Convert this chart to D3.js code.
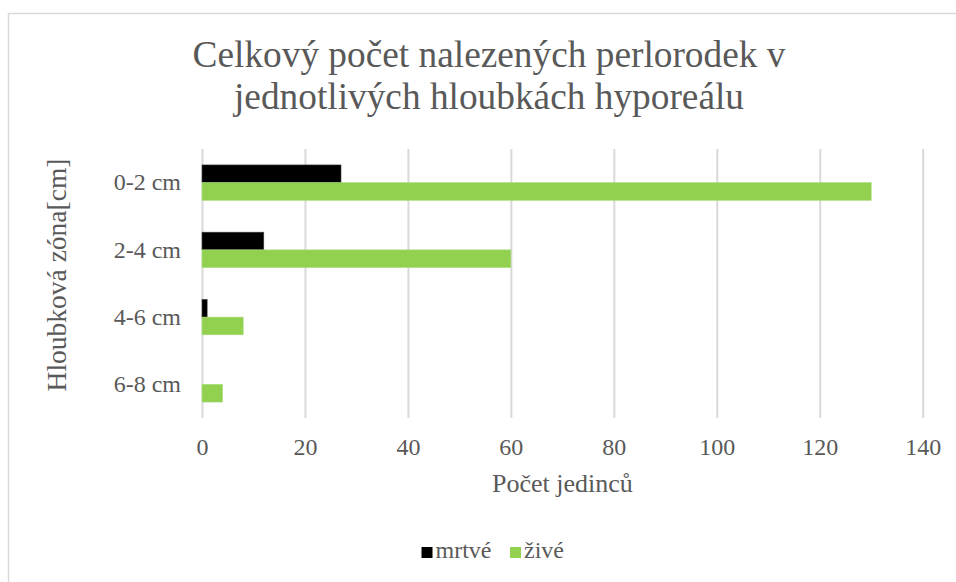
<!DOCTYPE html>
<html><head><meta charset="utf-8">
<script src="https://cdn.jsdelivr.net/npm/d3@7"></script>
<style>body{margin:0;background:#fff}svg{display:block}
svg text{font-family:"Liberation Serif","Times New Roman",Tinos,serif}</style>
</head><body>
<svg id="c" width="956" height="582"></svg>
<script>
const categories = ["0-2 cm", "2-4 cm", "4-6 cm", "6-8 cm"];
const seriesNames = ["mrtvé", "živé"];
const mrtve = [27, 12, 1, 0];
const zive = [130, 60, 8, 4];
const xTicks = [0, 20, 40, 60, 80, 100, 120, 140];
const colors = ["#000000", "#92d050"];

const svg = d3.select("#c");
const txt = "#595959";

svg.append("rect").attr("x", 8.5).attr("y", 13.5).attr("width", 960).attr("height", 600)
  .attr("fill", "#fff").attr("stroke", "#d9d9d9").attr("stroke-width", 1.5);

const L = 202, R = 922.7, T = 149, B = 418;
const x = d3.scaleLinear().domain([0, 140]).range([L, R]);
const y = d3.scaleBand().domain(categories).range([T, B]);
const bh = y.bandwidth() * 0.263;
const y1 = d3.scaleBand().domain(seriesNames).range([y.bandwidth()/2 - bh, y.bandwidth()/2 + bh]);

const xAxis = d3.axisBottom(x).tickValues(xTicks).tickSize(-(B - T)).tickFormat(d3.format("d"));
const gx = svg.append("g").attr("transform", `translate(0,${B})`).call(xAxis);
gx.attr("font-family", null);
gx.select(".domain").remove();
gx.selectAll(".tick line").attr("stroke", "#d9d9d9").attr("stroke-width", 2);
gx.selectAll(".tick text").attr("fill", txt).attr("font-size", 24)
  .attr("dy", 0).attr("y", 37);

const yAxis = d3.axisLeft(y).tickSize(0).tickPadding(21);
const gy = svg.append("g").attr("transform", `translate(${L},0)`).call(yAxis);
gy.attr("font-family", null);
gy.select(".domain").remove();
gy.selectAll(".tick text").attr("fill", txt).attr("font-size", 24);

const data = categories.map((c, i) => ({c, vals: [mrtve[i], zive[i]]}));
const groups = svg.append("g").selectAll("g").data(data).join("g")
  .attr("transform", d => `translate(0,${y(d.c)})`);
groups.selectAll("rect").data(d => d.vals.map((v, j) => ({v, s: seriesNames[j], j})))
  .join("rect")
  .attr("x", x(0)).attr("y", d => y1(d.s))
  .attr("width", d => x(d.v) - x(0)).attr("height", y1.bandwidth())
  .attr("fill", d => colors[d.j])
  .attr("stroke", d => d.v > 0 ? (d.j === 0 ? "#404040" : "#a9dc7a") : "none")
  .attr("stroke-width", 0.6);

const title = svg.append("text").attr("x", 489).attr("text-anchor", "middle")
  .attr("fill", txt).attr("font-size", 37.33);
title.append("tspan").attr("x", 489).attr("y", 67).text("Celkový počet nalezených perlorodek v");
title.append("tspan").attr("x", 489).attr("y", 109).text("jednotlivých hloubkách hyporeálu");

svg.append("text").attr("x", (L + R) / 2).attr("y", 492).attr("text-anchor", "middle")
  .attr("fill", txt).attr("font-size", 26).text("Počet jedinců");
svg.append("text").attr("transform", `translate(66,275) rotate(-90)`)
  .attr("text-anchor", "middle").attr("fill", txt).attr("font-size", 27.5)
  .text("Hloubková zóna[cm]");

const leg = svg.append("g");
const legX = [421.5, 510];
seriesNames.forEach((s, i) => {
  leg.append("rect").attr("x", legX[i]).attr("y", 547).attr("width", 11).attr("height", 11).attr("fill", colors[i]);
  leg.append("text").attr("x", legX[i] + 14).attr("y", 558).attr("fill", txt)
    .attr("font-size", 24).text(s);
});
</script>
</body></html>
